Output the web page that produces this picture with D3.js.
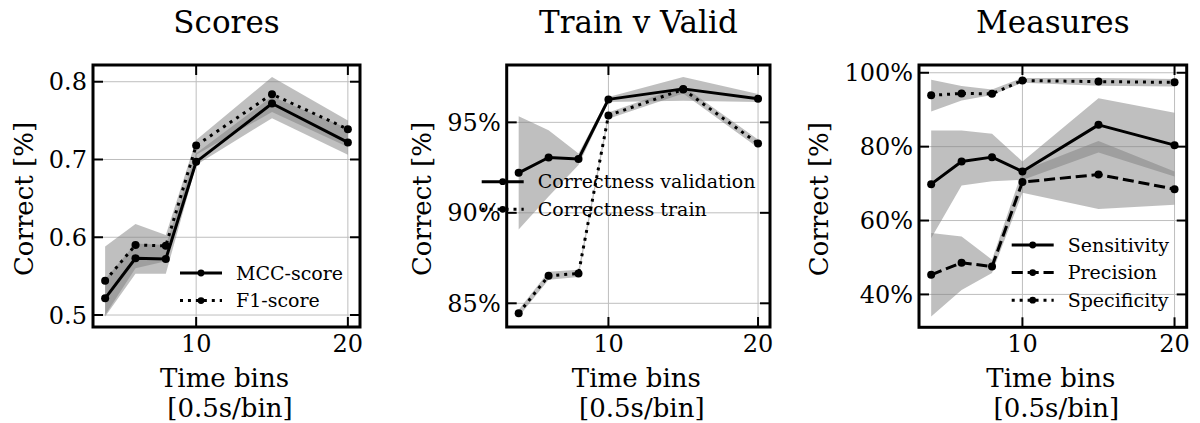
<!DOCTYPE html>
<html>
<head>
<meta charset="utf-8">
<script src="https://cdn.jsdelivr.net/npm/d3@7"></script>
<style>
  html, body { margin: 0; padding: 0; background: #fff; }
  svg { display: block; font-family: "DejaVu Serif", serif; }
</style>
</head>
<body>
<svg id="chart" width="1200" height="423"></svg>
<script>
// ---- data -------------------------------------------------------------
const timeBins = [4, 6, 8, 10, 15, 20];
const xTicks = [10, 20];

// Scores
const mccScore = [0.5215, 0.573, 0.572, 0.697, 0.772, 0.722];
const mccLow   = [0.498, 0.553, 0.553, 0.693, 0.753, 0.706];
const mccHigh  = [0.546, 0.592, 0.590, 0.708, 0.781, 0.740];
const f1Score  = [0.544, 0.590, 0.589, 0.718, 0.784, 0.739];
const f1Low    = [0.500, 0.560, 0.569, 0.706, 0.761, 0.716];
const f1High   = [0.588, 0.617, 0.603, 0.725, 0.806, 0.750];
const scoreTicks = [0.5, 0.6, 0.7, 0.8];

// Train v Valid (percent)
const validation = [92.21, 93.06, 92.98, 96.27, 96.85, 96.30];
const valLow     = [89.08, 90.90, 92.64, 96.13, 96.20, 96.13];
const valHigh    = [95.34, 94.57, 93.28, 96.40, 97.50, 96.57];
const train      = [84.45, 86.52, 86.65, 95.38, 96.82, 93.83];
const trainLow   = [84.25, 86.30, 86.45, 95.20, 96.60, 93.60];
const trainHigh  = [84.65, 86.75, 86.85, 95.55, 97.00, 94.05];
const validTicks = [85, 90, 95];

// Measures (percent)
const sensitivity = [69.85, 75.97, 77.16, 73.26, 85.9, 80.4];
const sensLow     = [55.2, 69.5, 70.6, 71.0, 78.4, 71.9];
const sensHigh    = [84.4, 84.4, 83.5, 76.0, 93.1, 89.2];
const precision   = [45.3, 48.6, 47.55, 70.4, 72.45, 68.5];
const precLow     = [34.0, 41.2, 45.8, 67.5, 63.1, 64.3];
const precHigh    = [56.6, 55.7, 49.4, 73.5, 81.5, 73.3];
const specificity = [93.9, 94.4, 94.3, 97.9, 97.6, 97.4];
const specLow     = [89.5, 92.5, 94.0, 97.3, 96.5, 96.3];
const specHigh    = [98.1, 96.4, 95.5, 98.6, 98.6, 98.3];
const measureTicks = [40, 60, 80, 100];

const titles = ["Scores", "Train v Valid", "Measures"];
const xLabelLines = ["Time bins", "[0.5s/bin]"];
const yLabel = "Correct [%]";

// ---- styles -----------------------------------------------------------
const DOTTED = "3,4.95";
const DASHED = "11.1,4.8";
const pct = d => d + "%";

const panels = [
  {
    title: titles[0], left: 93, right: 360, top: 65, bottom: 327,
    xDomain: [3.2, 20.8], yDomain: [0.4846, 0.8215],
    yTicks: scoreTicks, fmt: d3.format(".1f"), yLabelX: 33,
    series: [
      { name: "MCC-score", values: mccScore, low: mccLow, high: mccHigh, dash: null },
      { name: "F1-score",  values: f1Score,  low: f1Low,  high: f1High,  dash: DOTTED }
    ],
    legend: { x: 180, y: 273 }
  },
  {
    title: titles[1], left: 506.7, right: 770, top: 65, bottom: 327,
    xDomain: [3.2, 20.8], yDomain: [83.69, 98.17],
    yTicks: validTicks, fmt: pct, yLabelX: 431,
    series: [
      { name: "Correctness validation", values: validation, low: valLow, high: valHigh, dash: null },
      { name: "Correctness train",      values: train,      low: trainLow, high: trainHigh, dash: DOTTED }
    ],
    legend: { x: 481.7, y: 181.7 }
  },
  {
    title: titles[2], left: 919, right: 1186.7, top: 65, bottom: 327.3,
    xDomain: [3.2, 20.8], yDomain: [31.1, 102.1],
    yTicks: measureTicks, fmt: pct, yLabelX: 828,
    series: [
      { name: "Sensitivity", values: sensitivity, low: sensLow, high: sensHigh, dash: null },
      { name: "Precision",   values: precision,   low: precLow, high: precHigh, dash: DASHED },
      { name: "Specificity", values: specificity, low: specLow, high: specHigh, dash: DOTTED }
    ],
    legend: { x: 1011.7, y: 245 }
  }
];

const svg = d3.select("#chart");

panels.forEach((p, pi) => {
  const x = d3.scaleLinear().domain(p.xDomain).range([p.left, p.right]);
  const y = d3.scaleLinear().domain(p.yDomain).range([p.bottom, p.top]);
  const g = svg.append("g");
  const clipId = "clip" + pi;
  svg.append("clipPath").attr("id", clipId)
    .append("rect").attr("x", p.left).attr("y", p.top)
    .attr("width", p.right - p.left).attr("height", p.bottom - p.top);

  // grid
  const grid = g.append("g").attr("stroke", "#bebebe").attr("stroke-width", 1);
  xTicks.forEach(t => grid.append("line")
    .attr("x1", x(t)).attr("x2", x(t)).attr("y1", p.top).attr("y2", p.bottom));
  p.yTicks.forEach(t => grid.append("line")
    .attr("x1", p.left).attr("x2", p.right).attr("y1", y(t)).attr("y2", y(t)));

  const plot = g.append("g").attr("clip-path", `url(#${clipId})`);

  // shaded spread bands
  const area = d3.area()
    .x((d, i) => x(timeBins[i]))
    .y0(d => y(d[0]))
    .y1(d => y(d[1]));
  p.series.forEach(s => {
    plot.append("path")
      .datum(s.low.map((l, i) => [l, s.high[i]]))
      .attr("d", area)
      .attr("fill", "#808080")
      .attr("fill-opacity", 0.5);
  });

  // mean lines with markers
  const line = d3.line().x((d, i) => x(timeBins[i])).y(d => y(d));
  p.series.forEach(s => {
    plot.append("path")
      .datum(s.values)
      .attr("d", line)
      .attr("fill", "none")
      .attr("stroke", "#000")
      .attr("stroke-width", 3)
      .attr("stroke-linejoin", "round")
      .attr("stroke-dasharray", s.dash);
    plot.selectAll(null).data(s.values).enter().append("circle")
      .attr("cx", (d, i) => x(timeBins[i]))
      .attr("cy", d => y(d))
      .attr("r", 4)
      .attr("fill", "#000");
  });

  // ticks (inward, all four sides)
  const tk = g.append("g").attr("stroke", "#000").attr("stroke-width", 2);
  const TL = 10;
  xTicks.forEach(t => {
    tk.append("line").attr("x1", x(t)).attr("x2", x(t)).attr("y1", p.bottom).attr("y2", p.bottom - TL);
    tk.append("line").attr("x1", x(t)).attr("x2", x(t)).attr("y1", p.top).attr("y2", p.top + TL);
  });
  p.yTicks.forEach(t => {
    tk.append("line").attr("x1", p.left).attr("x2", p.left + TL).attr("y1", y(t)).attr("y2", y(t));
    tk.append("line").attr("x1", p.right).attr("x2", p.right - TL).attr("y1", y(t)).attr("y2", y(t));
  });

  // frame
  g.append("rect")
    .attr("x", p.left).attr("y", p.top)
    .attr("width", p.right - p.left).attr("height", p.bottom - p.top)
    .attr("fill", "none").attr("stroke", "#000").attr("stroke-width", 3);

  // tick labels
  xTicks.forEach(t => g.append("text")
    .attr("x", x(t)).attr("y", p.bottom + 25)
    .attr("text-anchor", "middle").attr("font-size", 24).text(t));
  p.yTicks.forEach(t => g.append("text")
    .attr("x", p.left - 6).attr("y", y(t)).attr("dy", "0.36em")
    .attr("text-anchor", "end").attr("font-size", 24).text(p.fmt(t)));

  // titles and axis labels
  const cx = (p.left + p.right) / 2;
  g.append("text").attr("x", cx).attr("y", 33)
    .attr("text-anchor", "middle").attr("font-size", 31).text(p.title);
  g.append("text").attr("x", cx - 2).attr("y", 386.5)
    .attr("text-anchor", "middle").attr("font-size", 26).text(xLabelLines[0]);
  g.append("text").attr("x", cx + 3.5).attr("y", 416.5)
    .attr("text-anchor", "middle").attr("font-size", 26).text(xLabelLines[1]);
  g.append("text")
    .attr("transform", `translate(${p.yLabelX},${(p.top + p.bottom) / 2 + 3}) rotate(-90)`)
    .attr("text-anchor", "middle").attr("font-size", 26).text(yLabel);

  // legend
  const lg = g.append("g");
  p.series.forEach((s, i) => {
    const ly = p.legend.y + i * 27.6;
    lg.append("line")
      .attr("x1", p.legend.x).attr("x2", p.legend.x + 42)
      .attr("y1", ly).attr("y2", ly)
      .attr("stroke", "#000").attr("stroke-width", 3)
      .attr("stroke-dasharray", s.dash);
    lg.append("circle").attr("cx", p.legend.x + 21).attr("cy", ly).attr("r", 3.4).attr("fill", "#000");
    lg.append("text")
      .attr("x", p.legend.x + 56).attr("y", ly).attr("dy", "0.35em")
      .attr("font-size", 19).text(s.name);
  });
});
</script>
</body>
</html>
